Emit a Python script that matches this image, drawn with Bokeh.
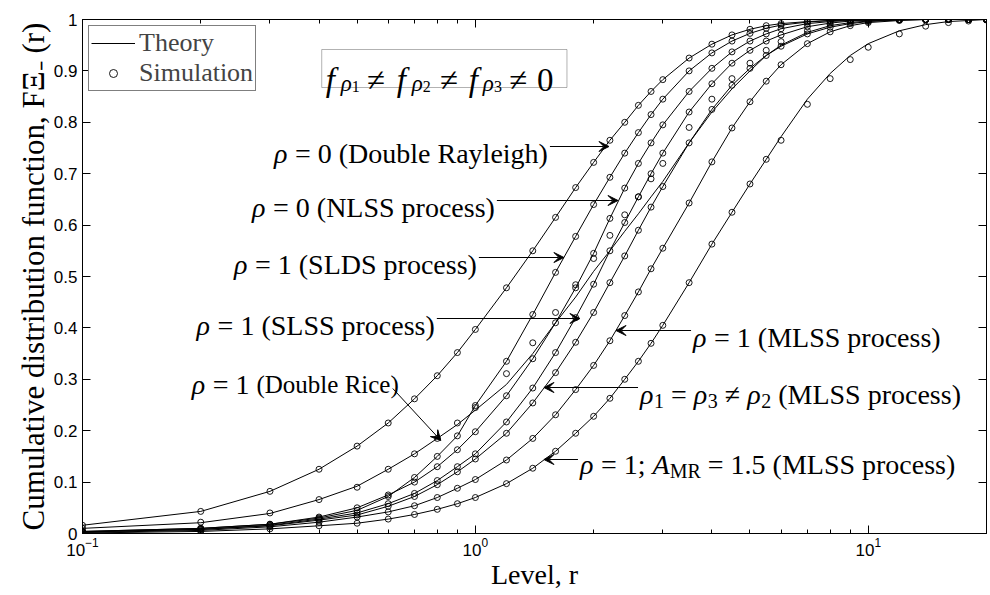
import math
from bokeh.plotting import figure
from bokeh.models import (Label, Arrow, VeeHead, FixedTicker, LinearAxis, LogAxis,
                          Legend, LegendItem, BoxAnnotation, CustomJSTickFormatter, Range1d)
from bokeh.embed import file_html
from bokeh.resources import INLINE

# ---------------- data ----------------
r_levels = [0.1, 0.2, 0.3, 0.4, 0.5, 0.6, 0.7, 0.8, 0.9, 1.0, 1.2, 1.4, 1.6, 1.8, 2.0,
            2.2, 2.4, 2.6, 2.8, 3.0, 3.5, 4.0, 4.5, 5.0, 5.5, 6.0, 7.0, 8.0, 9.0, 10,
            12, 14, 16, 18, 20]

theory_double_rayleigh = [.016, .043, .082, .125, .17, .215, .262, .307, .352, .397, .478, .55, .615, .673, .722,
                          .765, .80, .833, .86, .883, .925, .952, .97, .981, .988, .992, .996, .998, .999, 1,
                          1, 1, 1, 1, 1]
theory_double_rice = [.01, .021, .039, .066, .092, .125, .155, .185, .212, .24, .29, .35, .41, .46, .51,
                      .55, .588, .622, .655, .685, .76, .82, .865, .90, .93, .95, .975, .988, .994, .997,
                      1, 1, 1, 1, 1]
theory_slds = [.004, .01, .018, .03, .045, .072, .109, .15, .19, .249, .335, .426, .508, .578, .64,
               .693, .74, .78, .815, .845, .90, .935, .958, .973, .983, .989, .995, .998, .999, 1,
               1, 1, 1, 1, 1]
theory_nlss = [.004, .01, .018, .032, .05, .075, .10, .13, .163, .198, .268, .34, .41, .478, .545,
               .613, .672, .72, .76, .795, .86, .905, .937, .958, .972, .982, .992, .996, .998, .999,
               1, 1, 1, 1, 1]
theory_slss = [.003, .008, .016, .028, .04, .058, .078, .103, .13, .155, .217, .283, .352, .42, .485,
               .55, .605, .655, .70, .74, .82, .875, .915, .94, .958, .97, .986, .993, .997, .998,
               1, 1, 1, 1, 1]
theory_rho13 = [.003, .008, .015, .026, .036, .053, .072, .095, .12, .145, .195, .254, .313, .372, .43,
                .488, .54, .59, .635, .675, .76, .825, .872, .905, .93, .948, .972, .985, .992, .996,
                .999, 1, 1, 1, 1]
theory_mlss = [.002, .006, .013, .022, .032, .042, .054, .07, .088, .105, .143, .185, .231, .28, .327,
               .375, .424, .47, .515, .555, .643, .723, .789, .84, .88, .912, .953, .976, .988, .994,
               .998, 1, 1, 1, 1]
theory_mlss_amr = [.001, .004, .009, .015, .02, .028, .037, .047, .058, .07, .097, .127, .16, .195, .228,
                   .263, .30, .335, .37, .405, .488, .563, .625, .68, .728, .772, .845, .895, .93, .953,
                   .978, .99, .996, .998, 1]

sim_double_rayleigh = [.016, .043, .082, .125, .17, .215, .262, .307, .352, .397, .478, .55, .615, .673, .722,
                       .765, .80, .833, .86, .883, .925, .952, .97, .981, .988, .992, .996, .998, .999, 1,
                       1, 1, 1, 1, 1]
sim_double_rice = [.01, .022, .04, .066, .09, .125, .155, .185, .215, .245, .311, .371, .43, .484, .535,
                   .58, .62, .655, .69, .72, .79, .845, .885, .915, .94, .957, .978, .99, .995, .998,
                   1, 1, 1, 1, 1]
sim_slds = [.004, .01, .018, .03, .045, .072, .109, .15, .19, .249, .335, .426, .508, .578, .64,
            .693, .74, .78, .815, .845, .90, .935, .958, .973, .983, .989, .995, .998, .999, 1,
            1, 1, 1, 1, 1]
sim_nlss = [.004, .01, .018, .032, .05, .075, .10, .13, .163, .198, .268, .34, .41, .478, .545,
            .613, .672, .72, .76, .795, .86, .905, .937, .958, .972, .982, .992, .996, .998, .999,
            1, 1, 1, 1, 1]
sim_slss = [.003, .008, .016, .028, .04, .058, .078, .103, .13, .155, .217, .283, .352, .42, .485,
            .55, .605, .655, .70, .74, .82, .875, .915, .94, .958, .97, .986, .993, .997, .998,
            1, 1, 1, 1, 1]
sim_rho13 = [.003, .008, .015, .026, .036, .053, .072, .095, .12, .145, .195, .254, .313, .372, .43,
             .488, .54, .59, .635, .675, .76, .825, .872, .905, .93, .948, .972, .985, .992, .996,
             .999, 1, 1, 1, 1]
sim_mlss = [.002, .006, .013, .022, .032, .042, .054, .07, .088, .105, .143, .185, .231, .28, .327,
            .375, .424, .47, .515, .555, .643, .723, .789, .84, .88, .912, .953, .976, .988, .994,
            .998, 1, 1, 1, 1]
sim_mlss_amr = [.001, .004, .009, .015, .02, .028, .037, .047, .058, .07, .097, .127, .16, .195, .228,
                .263, .30, .335, .37, .405, .488, .563, .625, .68, .728, .765, .835, .885, .922, .946,
                .972, .987, .994, .997, .999]

theory_series = [theory_double_rayleigh, theory_slds, theory_nlss, theory_double_rice,
                 theory_slss, theory_rho13, theory_mlss, theory_mlss_amr]
sim_series = [sim_double_rayleigh, sim_slds, sim_nlss, sim_double_rice,
              sim_slss, sim_rho13, sim_mlss, sim_mlss_amr]

x_major_ticks = [0.1, 1, 10]
x_minor_ticks = [0.2, 0.3, 0.4, 0.5, 0.6, 0.7, 0.8, 0.9, 2, 3, 4, 5, 6, 7, 8, 9]
y_ticks = [0, 0.1, 0.2, 0.3, 0.4, 0.5, 0.6, 0.7, 0.8, 0.9, 1]

x_title = "Level, r"
y_title = "Cumulative distribution function, FΞ₋ (r)"

# ---------------- layout helpers (reference pixel -> data) ----------------
def rx(px):
    return 10 ** ((px - 82) / 392.5 - 1)

def fy(py):
    return (533 - py) / 514.0

W_REG = {' ': 250, '(': 333, ')': 333, '=': 564, '≠': 549, '.': 250, ',': 250, ';': 278,
         '−': 564, 'A': 722, 'C': 667, 'D': 722, 'F': 556, 'L': 611, 'M': 889, 'N': 722,
         'R': 667, 'S': 556, 'T': 611, 'Ξ': 640, 'a': 444, 'b': 500, 'c': 444, 'd': 500,
         'e': 444, 'f': 333, 'g': 500, 'h': 500, 'i': 278, 'l': 278, 'm': 778, 'n': 500,
         'o': 500, 'p': 500, 'r': 333, 's': 389, 't': 278, 'u': 500, 'v': 500, 'y': 500,
         'ρ': 500}
for d in "0123456789":
    W_REG[d] = 500
W_IT = {'f': 278, 'r': 389, 'F': 611, 'A': 611, 'ρ': 500}

SERIF = "Liberation Serif"

def tw(s, size, italic):
    tab = W_IT if italic else W_REG
    return sum(tab.get(ch, W_REG.get(ch, 500)) for ch in s) * size / 1000.0

p = figure(width=990, height=595, x_axis_type="log",
           x_range=Range1d(0.1, 20), y_range=Range1d(0, 1),
           output_backend="svg", toolbar_location=None,
           min_border_left=82, min_border_right=4, min_border_top=19, min_border_bottom=62)
p.grid.visible = False
p.outline_line_color = "black"
p.outline_line_width = 1
p.background_fill_color = "white"
p.border_fill_color = "white"

def chain(x, y, pieces, align="left", base=0.0):
    total = sum(tw(t, s, it) for t, s, it, sh in pieces)
    cur = {"left": 0.0, "right": -total, "center": -total / 2.0}[align]
    for t, s, it, sh in pieces:
        lead = len(t) - len(t.lstrip(' '))
        cur_txt = cur + tw(' ' * lead, s, it)
        txt = t.strip(' ')
        if txt:
            p.add_layout(Label(x=x, y=y, text=txt, x_offset=cur_txt, y_offset=-(base + sh),
                               text_font=SERIF, text_font_size=f"{s}px",
                               text_font_style="italic" if it else "normal",
                               text_baseline="alphabetic", text_align="left",
                               text_color="black"))
        cur += tw(t, s, it)

# ---------------- curves ----------------
first_line = None
first_sim = None
for th, sm in zip(theory_series, sim_series):
    lr = p.line(r_levels, th, line_color="black", line_width=1)
    sr = p.scatter(r_levels, sm, marker="circle", size=6, fill_color=None,
                   line_color="black", line_width=0.9)
    if first_line is None:
        first_line, first_sim = lr, sr

# ---------------- axes ----------------
def style_axis(ax, labels=True):
    ax.axis_line_color = "black"
    ax.axis_line_width = 1
    ax.major_tick_line_color = "black"
    ax.minor_tick_line_color = "black"
    ax.major_tick_in = 8
    ax.major_tick_out = 0
    ax.minor_tick_in = 4
    ax.minor_tick_out = 0
    ax.major_label_text_font = "Liberation Sans"
    ax.major_label_text_color = "black"
    ax.major_label_text_font_size = "17px"
    if labels:
        ax.major_label_standoff = 5
    else:
        ax.formatter = CustomJSTickFormatter(code="return '';")
        ax.major_label_standoff = 0

xb = p.xaxis[0]
xb.ticker = FixedTicker(ticks=x_major_ticks, minor_ticks=x_minor_ticks)
style_axis(xb)
xb.major_label_standoff = 4
yl = p.yaxis[0]
yl.ticker = FixedTicker(ticks=y_ticks, minor_ticks=[])
yl.formatter = CustomJSTickFormatter(
    code="return (tick == 0 || tick == 1) ? tick.toFixed(0) : tick.toFixed(1);")
style_axis(yl)

yl.axis_label = y_title
xb.axis_label = x_title
yl.axis_label_text_font_size = "31px"
xb.axis_label_text_font_size = "28px"
for ax in (yl, xb):
    ax.axis_label_text_font = SERIF
    ax.axis_label_text_font_style = "normal"
    ax.axis_label_text_color = "black"
    ax.axis_label_standoff = 0

xt = LogAxis(ticker=FixedTicker(ticks=x_major_ticks, minor_ticks=x_minor_ticks))
style_axis(xt, labels=False)
p.add_layout(xt, "above")
yr = LinearAxis(ticker=FixedTicker(ticks=y_ticks, minor_ticks=[]))
style_axis(yr, labels=False)
p.add_layout(yr, "right")

# ---------------- legend ----------------
legend = Legend(items=[LegendItem(label="Theory", renderers=[first_line]),
                       LegendItem(label="Simulation", renderers=[first_sim])],
                location="top_left", margin=6, padding=2, spacing=0,
                glyph_width=44, glyph_height=20, label_standoff=4,
                label_text_font=SERIF, label_text_font_size="26px",
                border_line_color="black", border_line_width=1.5,
                background_fill_color="white", background_fill_alpha=1)
p.add_layout(legend)

# ---------------- condition box ----------------
p.add_layout(BoxAnnotation(left=rx(321), right=rx(566), top=fy(49), bottom=fy(87),
                           fill_color=None, line_color="black", line_width=1))
fbox_pieces = [("f", 325, 33, True, 0), ("ρ", 340, 23, True, 4), ("1", 351, 16, False, 7),
               ("≠", 366, 33, False, 0),
               ("f", 396, 33, True, 0), ("ρ", 411, 23, True, 4), ("2", 422, 16, False, 7),
               ("≠", 439, 33, False, 0),
               ("f", 468, 33, True, 0), ("ρ", 482, 23, True, 4), ("3", 493, 16, False, 7),
               ("≠", 508, 33, False, 0), ("0", 536, 33, False, 0)]
for t, px, s, it, sh in fbox_pieces:
    p.add_layout(Label(x=rx(px), y=fy(79), text=t, y_offset=-sh, text_font=SERIF,
                       text_font_size=f"{s}px", text_font_style="italic" if it else "normal",
                       text_baseline="alphabetic", text_align="left", text_color="black"))

# ---------------- annotations ----------------
S = 28
SS = 20
annotations = [
    ([("ρ", S, True, 0), (" = 0 (Double Rayleigh)", S, False, 0)], "right", 547, 146, (549, 146, 608, 146)),
    ([("ρ", S, True, 0), (" = 0 (NLSS process)", S, False, 0)], "right", 494, 200, (496, 200, 617, 200)),
    ([("ρ", S, True, 0), (" = 1 (SLDS process)", S, False, 0)], "right", 476, 257, (478, 257, 563, 257)),
    ([("ρ", S, True, 0), (" = 1 (SLSS process)", S, False, 0)], "right", 434, 318, (436, 318, 579, 318)),
    ([("ρ", S, True, 0), (" = 1 ", S, False, 0), ("(Double Rice)", 25, False, 0)], "right", 398, 377,
     (392, 388, 440, 440)),
    ([("ρ", S, True, 0), (" = 1 (MLSS process)", S, False, 0)], "left", 692, 330, (690, 330, 615, 330)),
    ([("ρ", S, True, 0), ("1", SS, False, 6), (" = ", S, False, 0), ("ρ", S, True, 0), ("3", SS, False, 6),
      (" ≠ ", S, False, 0), ("ρ", S, True, 0), ("2", SS, False, 6), (" (MLSS process)", S, False, 0)],
     "left", 639, 387, (637, 387, 543, 387)),
    ([("ρ", S, True, 0), (" = 1; ", S, False, 0), ("A", S, True, 0), ("MR", SS, False, 6),
      (" = 1.5 (MLSS process)", S, False, 0)], "left", 579, 457, (577, 459, 543, 459)),
]
for pieces, align, tx, ty, (ax0, ay0, ax1, ay1) in annotations:
    chain(rx(tx), fy(ty), pieces, align=align, base=7)
    p.add_layout(Arrow(end=VeeHead(size=10, line_color="black", fill_color="black", line_width=1),
                       x_start=rx(ax0), y_start=fy(ay0), x_end=rx(ax1), y_end=fy(ay1),
                       line_color="black", line_width=1))

open("out.html", "w").write(file_html(p, INLINE))
